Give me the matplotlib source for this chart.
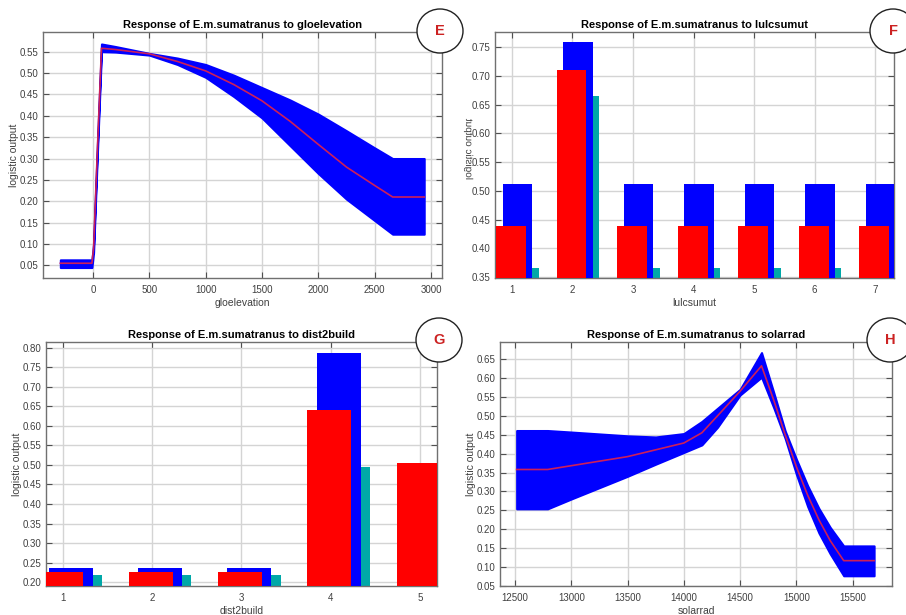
import numpy as np
import matplotlib
matplotlib.use("Agg")
import matplotlib.pyplot as plt
from matplotlib.patches import Ellipse, PathPatch
from matplotlib.textpath import TextPath
from matplotlib.font_manager import FontProperties
from matplotlib.transforms import Affine2D, IdentityTransform

plt.rcParams['font.family'] = ['Liberation Sans', 'DejaVu Sans']

# E: gloelevation (continuous response, mean +/- sd)
elev_x = [-290, -10, 5, 40, 75, 200, 500, 750, 1000, 1250, 1500, 1750, 2000, 2250, 2500, 2660, 2940]
elev_mean = [0.055, 0.055, 0.09, 0.33, 0.558, 0.555, 0.545, 0.527, 0.505, 0.473, 0.435, 0.387, 0.333, 0.28, 0.237, 0.21, 0.21]
elev_upper = [0.063, 0.063, 0.10, 0.34, 0.568, 0.562, 0.546, 0.535, 0.52, 0.495, 0.466, 0.437, 0.404, 0.365, 0.325, 0.30, 0.30]
elev_lower = [0.045, 0.045, 0.08, 0.32, 0.55, 0.549, 0.542, 0.52, 0.49, 0.445, 0.395, 0.33, 0.265, 0.205, 0.155, 0.123, 0.123]

# F: lulcsumut (categorical)
lulc_cat = [1, 2, 3, 4, 5, 6, 7]
lulc_upper = [0.512, 0.759, 0.512, 0.512, 0.512, 0.512, 0.512]
lulc_mean = [0.439, 0.711, 0.439, 0.439, 0.439, 0.439, 0.439]
lulc_lower = [0.366, 0.665, 0.366, 0.366, 0.366, 0.366, 0.366]

# G: dist2build (categorical)
build_cat = [1, 2, 3, 4, 5]
build_upper = [0.237, 0.237, 0.237, 0.788, 0.506]
build_mean = [0.227, 0.227, 0.227, 0.641, 0.504]
build_lower = [0.218, 0.218, 0.218, 0.495, 0.50]

# H: solarrad (continuous)
solar_x = [12515, 12790, 13000, 13250, 13500, 13750, 14000, 14160, 14300, 14500, 14690, 14800, 14900, 15000, 15100, 15200, 15300, 15420, 15690]
solar_mean = [0.358, 0.358, 0.368, 0.38, 0.392, 0.41, 0.428, 0.455, 0.5, 0.565, 0.632, 0.54, 0.45, 0.365, 0.29, 0.225, 0.17, 0.117, 0.117]
solar_upper = [0.461, 0.461, 0.457, 0.452, 0.447, 0.444, 0.453, 0.485, 0.52, 0.57, 0.667, 0.56, 0.46, 0.385, 0.315, 0.255, 0.205, 0.156, 0.156]
solar_lower = [0.254, 0.254, 0.28, 0.31, 0.34, 0.372, 0.403, 0.423, 0.47, 0.555, 0.602, 0.52, 0.44, 0.345, 0.26, 0.19, 0.135, 0.077, 0.077]

BLUE = '#0000ff'
RED = '#ff0000'
CYAN = '#00a8a8'
LINE = '#cc1f5a'

fig = plt.figure(figsize=(9.06, 6.15), dpi=100)
W, H = 906, 615


def make_ax(left, top, right, bottom):
    ax = fig.add_axes([left / W, 1 - bottom / H, (right - left) / W, (bottom - top) / H])
    ax.grid(True, color='#d4d4d4', linewidth=1.0)
    ax.set_axisbelow(True)
    for s in ax.spines.values():
        s.set_color('#707070')
        s.set_linewidth(1.0)
    ax.tick_params(direction='in', top=True, right=True, length=4, width=0.8,
                   color='#505050', labelsize=7, labelcolor='#404040', pad=3)
    ax.tick_params(axis='x', pad=5)
    return ax


def style(ax, title, xlabel, ylabel=True):
    ax.set_title(title, fontsize=8, fontweight='bold', pad=3)
    ax.set_xlabel(xlabel, fontsize=7.5, color='#404040', labelpad=2)
    if ylabel:
        ax.set_ylabel('logistic output', fontsize=7.5, color='#404040', labelpad=1)
    ax.yaxis.set_major_formatter(matplotlib.ticker.FormatStrFormatter('%.2f'))


def bars(ax, cats, upper, mean, lower):
    c = np.array(cats, dtype=float)
    ax.bar(c + 0.335, lower, width=0.105, align='edge', color=CYAN, zorder=2)
    ax.bar(c - 0.155, upper, width=0.49, align='edge', color=BLUE, zorder=3)
    ax.bar(c - 0.26, mean, width=0.49, align='edge', color=RED, zorder=4)


# E
axE = make_ax(43, 32, 442, 278)
axE.fill_between(elev_x, elev_lower, elev_upper, color=BLUE, linewidth=1.5, edgecolor=BLUE, zorder=2)
axE.plot(elev_x, elev_mean, color=LINE, linewidth=1.2, zorder=3)
axE.set_xlim(-444, 3098)
axE.set_ylim(0.0205, 0.596)
axE.set_xticks(np.arange(0, 3001, 500))
axE.set_yticks(np.arange(0.05, 0.56, 0.05))
style(axE, 'Response of E.m.sumatranus to gloelevation', 'gloelevation')

# F
axF = make_ax(495, 32, 894, 278)
bars(axF, lulc_cat, lulc_upper, lulc_mean, lulc_lower)
axF.set_xlim(0.72, 7.31)
axF.set_ylim(0.348, 0.777)
axF.set_xticks(lulc_cat)
axF.set_yticks(np.arange(0.35, 0.76, 0.05))
style(axF, 'Response of E.m.sumatranus to lulcsumut', 'lulcsumut', ylabel=False)

# G
axG = make_ax(46, 342, 437, 586)
bars(axG, build_cat, build_upper, build_mean, build_lower)
axG.set_xlim(0.814, 5.19)
axG.set_ylim(0.19, 0.815)
axG.set_xticks(build_cat)
axG.set_yticks(np.arange(0.20, 0.81, 0.05))
style(axG, 'Response of E.m.sumatranus to dist2build', 'dist2build')

# H
axH = make_ax(500, 342, 892, 586)
axH.fill_between(solar_x, solar_lower, solar_upper, color=BLUE, linewidth=1.5, edgecolor=BLUE, zorder=2)
axH.plot(solar_x, solar_mean, color=LINE, linewidth=1.2, zorder=3)
axH.set_xlim(12367, 15849)
axH.set_ylim(0.05, 0.695)
axH.set_xticks(np.arange(12500, 15501, 500))
axH.set_yticks(np.arange(0.05, 0.66, 0.05))
style(axH, 'Response of E.m.sumatranus to solarrad', 'solarrad')

# mirrored y label on panel F
tp = TextPath((0, 0), 'logistic output', size=10, prop=FontProperties(family='Liberation Sans'))
swap = Affine2D(np.array([[0, 1, 0], [1, 0, 0], [0, 0, 1]], dtype=float))
tr = swap + Affine2D().translate(466, H - 180)
fig.patches.append(PathPatch(tp, transform=tr, color='#404040', lw=0, figure=fig))

# panel letters
for cx, cy, letter in [(440, 31, 'E'), (893, 31, 'F'), (439, 340, 'G'), (890, 340, 'H')]:
    fig.patches.append(Ellipse((cx, H - cy), 46, 44, transform=IdentityTransform(),
                               facecolor='white', edgecolor='#222222', linewidth=1.0,
                               figure=fig, zorder=10))
    fig.text(cx / W, 1 - cy / H, letter, color='#cc2222', fontsize=10.5, fontweight='bold',
             ha='center', va='center', zorder=11)

fig.savefig('out.png', dpi=100)
